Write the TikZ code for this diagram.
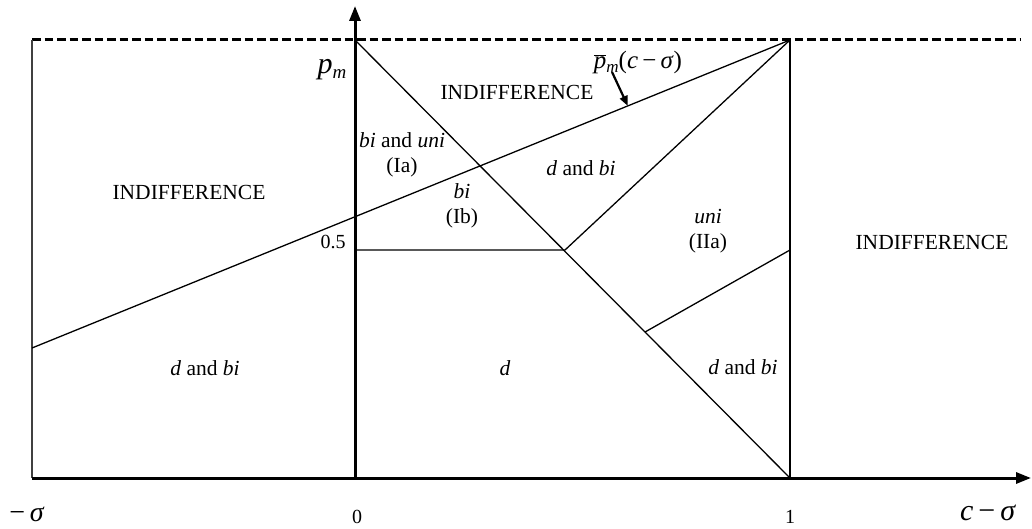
\documentclass[tikz,border=0pt]{standalone}
\usepackage{fontspec}
\setmainfont{Liberation Serif}
\usetikzlibrary{arrows.meta,calc,positioning}

\begin{document}
\begin{tikzpicture}[
    x=1pt, y=-1pt,
    region/.style={font=\fontsize{21.5}{25}\selectfont, align=center, inner sep=0pt},
    tick/.style={font=\fontsize{20}{24}\selectfont, inner sep=0pt},
    axis/.style={line width=3pt, -{Triangle[length=15pt,width=11pt]}},
    border/.style={line width=1.5pt},
    cut/.style={line width=1.3pt},
    pointer/.style={line width=2.2pt, -{Triangle[length=10pt,width=8pt]}}
]
\useasboundingbox (0,0) rectangle (1032,529);

% Corner points
\coordinate (orig) at (355,478);
\coordinate (bl) at (32,478);
\coordinate (tl) at (32,40);
\coordinate (top0) at (355,40);
\coordinate (br) at (790,478);
\coordinate (top1) at (790,40);
\coordinate (yend) at (355,6);
\coordinate (xend) at (1031,478);
\coordinate (dend) at (1020,40);
\coordinate (pleft) at (32,348);
\coordinate (half) at (355,250);
\coordinate (kink) at (565,250);
\coordinate (half1) at (790,250);
\coordinate (low) at ($(top0)!0.6667!(br)$);
\coordinate (touch) at ($(pleft)!0.786!(top1)$);
\coordinate (tail) at (612,72);

% Boundaries
\draw[line width=3pt, dash pattern=on 8.5pt off 4pt] (tl) -- (dend);
\draw[border, black!75] (bl) -- (tl);
\draw[cut] (br) -- (top1);
\draw[cut] (top0) -- (br);
\draw[cut] (pleft) -- (top1);
\draw[cut] (half) -- (kink) -- (top1);
\draw[cut] (low) -- (half1);

% Axes
\draw[axis] (bl) -- (xend);
\draw[axis] (orig) -- (yend);

% Axis labels
\node[tick, font=\fontsize{28}{30}\selectfont] (mSig) at (27,514) {−\,\textit{σ}};
\node[tick] (zero) at (357,517) {0};
\node[tick] (one) at (790,517) {1};
\node[tick, font=\fontsize{30}{32}\selectfont] (cSig) at (988,513) {\textit{c}\,−\,\textit{σ}};
\node[tick, font=\fontsize{30}{32}\selectfont] (pm) at (332,70) {\textit{p}\raisebox{-0.3ex}{\fontsize{19}{22}\selectfont\textit{m}}};
\node[tick] (pHalf) at (333,242) {0.5};

% Curve label
\node[tick, font=\fontsize{25}{28}\selectfont] (pbar) at (638,62) {$\overline{\mbox{\textit{p}}}$\raisebox{-0.35ex}{\fontsize{17}{19}\selectfont\textit{m}}(\textit{c}\,−\,\textit{σ})};
\draw[pointer] (tail) -- (touch);

% Regions
\node[region] (indL) at (189,192) {INDIFFERENCE};
\node[region] (indT) at (517,92) {INDIFFERENCE};
\node[region] (indR) at (932,242) {INDIFFERENCE};
\node[region] (ia) at (402,155) {\textit{bi} and \textit{uni}\\(Ia)};
\node[region] (ib) at (462,206) {\textit{bi}\\(Ib)};
\node[region] (dbiT) at (581,168) {\textit{d} and \textit{bi}};
\node[region] (iia) at (708,231) {\textit{uni}\\(IIa)};
\node[region] (dbiL) at (205,368) {\textit{d} and \textit{bi}};
\node[region] (dOnly) at (505,368) {\textit{d}};
\node[region] (dbiR) at (743,367) {\textit{d} and \textit{bi}};
\end{tikzpicture}
\end{document}
